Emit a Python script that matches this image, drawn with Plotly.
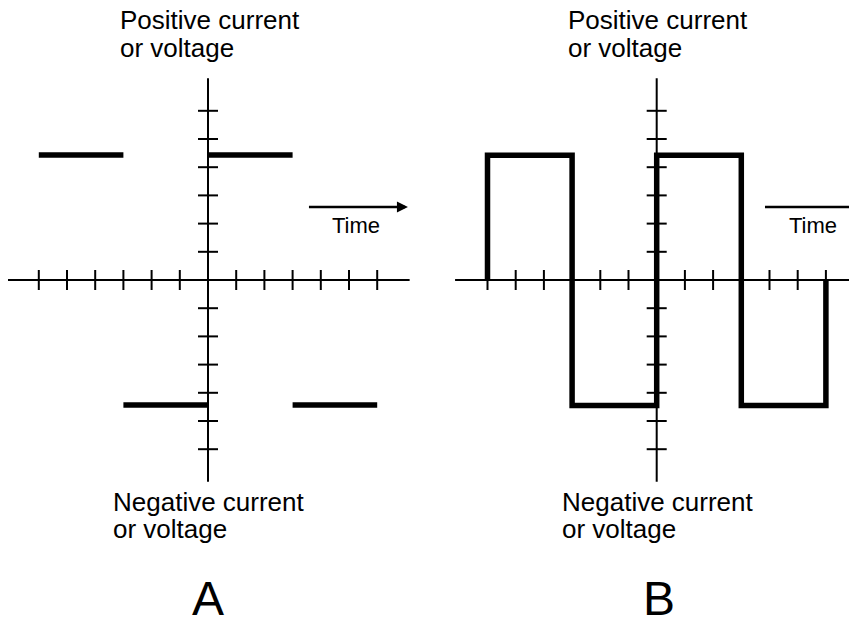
import plotly.graph_objects as go

# ---------------- data ----------------
tick_units = [-6, -5, -4, -3, -2, -1, 1, 2, 3, 4, 5, 6]
axis_extent = 7.15

# Panel A: separate horizontal segments (DC that switches polarity)
a_seg_start = [-6, -3, 0, 3]
a_seg_end = [-3, 0, 3, 6]
a_seg_level = [4.43, -4.43, 4.43, -4.43]

# Panel B: square wave (AC)
b_time = [-6, -6, -3, -3, 0, 0, 3, 3, 6, 6]
b_value = [0, 4.42, 4.42, -4.45, -4.45, 4.42, 4.42, -4.45, -4.45, 0]

pos_label_lines = ["Positive current", "or voltage"]
neg_label_lines = ["Negative current", "or voltage"]
time_label = "Time"
panel_labels = ["A", "B"]

# ---------------- layout geometry ----------------
OFF = 8                      # page body margin
W, H = 857 - OFF, 617 - OFF
unit = 28.2                  # pixels per unit
origin_y = 280 - OFF
panel_split = 430 - OFF
origin_x = [208 - OFF, 656.7 - OFF]

FONT = "Liberation Sans, Arial, sans-serif"
fig = go.Figure()


def add_panel(i):
    xa = "x" if i == 0 else "x2"
    ya = "y" if i == 0 else "y2"
    t = 0.355
    fig.add_trace(go.Scatter(x=[-axis_extent, axis_extent, None, 0, 0],
                             y=[0, 0, None, -axis_extent, axis_extent],
                             mode="lines", line=dict(color="black", width=2),
                             xaxis=xa, yaxis=ya, hoverinfo="skip", showlegend=False))
    tx, ty = [], []
    for u in tick_units:
        tx += [u, u, None]
        ty += [-t, t, None]
        tx += [-t, t, None]
        ty += [u, u, None]
    fig.add_trace(go.Scatter(x=tx, y=ty, mode="lines", line=dict(color="black", width=2),
                             xaxis=xa, yaxis=ya, hoverinfo="skip", showlegend=False))


add_panel(0)
add_panel(1)

# signal A
sx, sy = [], []
for s, e, l in zip(a_seg_start, a_seg_end, a_seg_level):
    sx += [s, e, None]
    sy += [l, l, None]
fig.add_trace(go.Scatter(x=sx, y=sy, mode="lines", line=dict(color="black", width=5.5),
                         xaxis="x", yaxis="y", hoverinfo="skip", showlegend=False))
# signal B
fig.add_trace(go.Scatter(x=b_time, y=b_value, mode="lines", line=dict(color="black", width=5.5),
                         xaxis="x2", yaxis="y2", hoverinfo="skip", showlegend=False))

# time arrows
arrow_start = [3.58, 3.84]
arrow_len = 3.51
arrow_y = 2.59
for i, (xa, ya) in enumerate([("x", "y"), ("x2", "y2")]):
    x0 = arrow_start[i]
    x1 = x0 + arrow_len
    fig.add_trace(go.Scatter(x=[x0, x1 - 0.1], y=[arrow_y, arrow_y], mode="lines",
                             line=dict(color="black", width=2.5),
                             xaxis=xa, yaxis=ya, hoverinfo="skip", showlegend=False))
    fig.add_trace(go.Scatter(x=[x1], y=[arrow_y], mode="markers",
                             marker=dict(symbol="arrow-right", size=11, color="black"),
                             xaxis=xa, yaxis=ya, hoverinfo="skip", showlegend=False))


def px2u_x(p, i):
    # p in reference-picture pixels
    return (p - OFF - origin_x[i]) / unit


def px2u_y(p):
    return (origin_y - (p - OFF)) / unit


def ax_x(i, p):
    return (p - origin_x[i]) / unit


ann = []
label_left_pos = [118, 566]
label_left_neg = [111, 560]
time_center = [356, 813]
pos_line_y = [20.2, 47.6]
neg_line_y = [501.9, 528.9]
LS = 26
for i, (xr, yr) in enumerate([("x", "y"), ("x2", "y2")]):
    for txt, yy in zip(pos_label_lines, pos_line_y):
        ann.append(dict(text=txt, x=px2u_x(label_left_pos[i], i), y=px2u_y(yy),
                        xref=xr, yref=yr, xanchor="left", yanchor="middle", align="left",
                        showarrow=False, font=dict(family=FONT, size=LS, color="black")))
    for txt, yy in zip(neg_label_lines, neg_line_y):
        ann.append(dict(text=txt, x=px2u_x(label_left_neg[i], i), y=px2u_y(yy),
                        xref=xr, yref=yr, xanchor="left", yanchor="middle", align="left",
                        showarrow=False, font=dict(family=FONT, size=LS, color="black")))
    ann.append(dict(text=time_label, x=px2u_x(time_center[i], i), y=px2u_y(225.3),
                    xref=xr, yref=yr, xanchor="center", yanchor="middle",
                    showarrow=False, font=dict(family=FONT, size=22, color="black")))
    ann.append(dict(text=panel_labels[i], x=0 if i == 0 else 0.08, y=px2u_y(598.2),
                    xref=xr, yref=yr, xanchor="center", yanchor="middle",
                    showarrow=False, font=dict(family=FONT, size=48, color="black")))

ax_common = dict(visible=False, showgrid=False, zeroline=False, fixedrange=True)
fig.update_layout(
    width=W, height=H,
    margin=dict(l=0, r=0, t=0, b=0),
    paper_bgcolor="white", plot_bgcolor="white",
    showlegend=False,
    xaxis=dict(domain=[0, panel_split / W], anchor="y",
               range=[ax_x(0, 0), ax_x(0, panel_split)], **ax_common),
    xaxis2=dict(domain=[panel_split / W, 1], anchor="y2",
                range=[ax_x(1, panel_split), ax_x(1, W)], **ax_common),
    yaxis=dict(domain=[0, 1], anchor="x", range=[(origin_y - H) / unit, origin_y / unit], **ax_common),
    yaxis2=dict(domain=[0, 1], anchor="x2", range=[(origin_y - H) / unit, origin_y / unit], **ax_common),
    annotations=ann,
)
fig.update_traces(cliponaxis=True)
fig.write_html("out.html")
